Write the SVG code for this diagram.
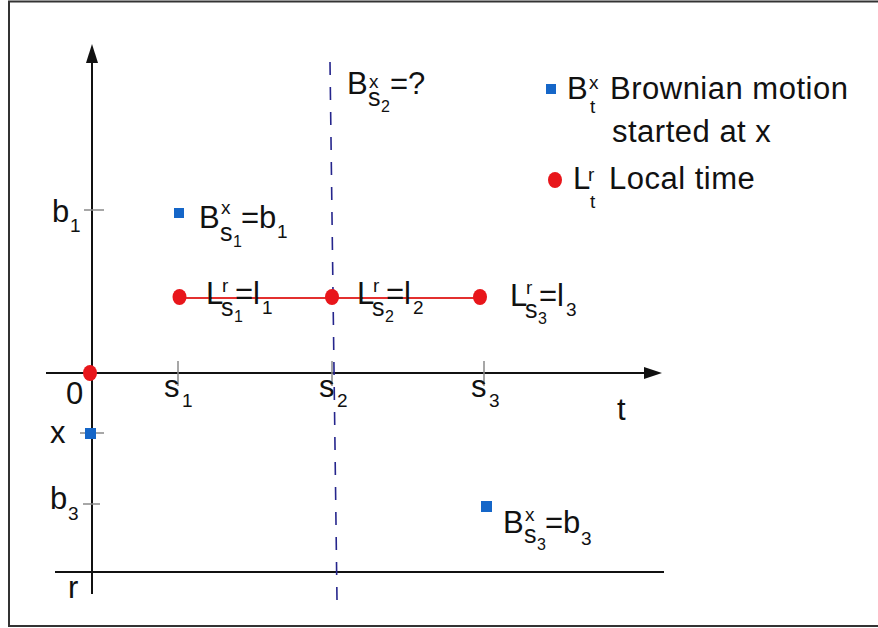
<svg xmlns="http://www.w3.org/2000/svg" width="878" height="628" viewBox="0 0 878 628">
<style>
text{font-family:"Liberation Sans",Arial,sans-serif;fill:#111}
.m{font-size:31px}
.s{font-size:19px}
.ss{font-size:25px}
.t{font-size:16px}
.ax{stroke:#111;stroke-width:2;fill:none}
.tick{stroke:#8a8a8a;stroke-width:1.5}
.dot{fill:#e8161b}
.sq{fill:#1566c8}
</style>
<rect width="878" height="628" fill="#fff"/>
<path d="M878 1.5H9V626H878" fill="none" stroke="#333" stroke-width="2"/>
<g id="connectors">
<path class="ax" d="M92 594V60"/>
<polygon points="92,44 86,63 98,63" fill="#111"/>
<path class="ax" d="M46 373H646"/>
<polygon points="662,373 644,367 644,379" fill="#111"/>
<path class="ax" d="M55 572H664" stroke-width="1.8"/>
<g class="tick">
<path d="M178 361V386M332 361V386M484 361V386M84 210H104M80 433H104M83 504H100"/>
</g>
<path d="M179.5 298H480" stroke="#e3302f" stroke-width="1.8"/>
<path d="M330 62L337 600" stroke="#25258c" stroke-width="1.6" stroke-dasharray="13 12"/>
</g>
<g id="origin"><ellipse class="dot" cx="90" cy="373" rx="7" ry="8"/><text class="m" x="66" y="404">0</text></g>
<g id="tick-labels">
<text class="m" x="164" y="397">s</text><text class="s" x="182" y="407">1</text>
<text class="m" x="319" y="397">s</text><text class="s" x="337" y="407">2</text>
<text class="m" x="471" y="397">s</text><text class="s" x="489" y="407">3</text>
<text class="m" x="617" y="420">t</text>
<text class="m" x="52" y="222">b</text><text class="s" x="70" y="232">1</text>
<text class="m" x="50" y="443">x</text>
<text class="m" x="50" y="509">b</text><text class="s" x="68" y="520">3</text>
<text class="m" x="68" y="598">r</text>
</g>
<g id="x-start"><rect class="sq" x="85" y="428" width="11" height="11"/></g>
<g id="B-s1">
<rect class="sq" x="174" y="208" width="10" height="10"/>
<text class="m" x="199" y="228">B</text><text class="s" x="221" y="214">x</text><text class="ss" x="220" y="241">s</text><text class="t" x="233" y="247">1</text>
<text class="m" x="241" y="228">=b</text><text class="s" x="277" y="238">1</text>
</g>
<g id="B-s2">
<text class="m" x="347" y="94">B</text><text class="s" x="369" y="88">x</text><text class="ss" x="368" y="106">s</text><text class="t" x="381" y="112">2</text>
<text class="m" x="390" y="94">=?</text>
</g>
<g id="B-s3">
<rect class="sq" x="481" y="501" width="11" height="11"/>
<text class="m" x="503" y="533">B</text><text class="s" x="525" y="521">x</text><text class="ss" x="524" y="543">s</text><text class="t" x="537" y="550">3</text>
<text class="m" x="545" y="533">=b</text><text class="s" x="581" y="545">3</text>
</g>
<g id="L-s1">
<ellipse class="dot" cx="179.5" cy="297" rx="7" ry="8"/>
<text class="m" x="206" y="304">L</text><text class="s" x="222" y="292">r</text><text class="ss" x="221" y="316">s</text><text class="t" x="234" y="322">1</text>
<text class="m" x="235" y="304">=l</text><text class="s" x="262" y="314">1</text>
</g>
<g id="L-s2">
<ellipse class="dot" cx="332" cy="297" rx="7" ry="8"/>
<text class="m" x="357" y="304">L</text><text class="s" x="373" y="292">r</text><text class="ss" x="372" y="316">s</text><text class="t" x="385" y="322">2</text>
<text class="m" x="386" y="304">=l</text><text class="s" x="413" y="314">2</text>
</g>
<g id="L-s3">
<ellipse class="dot" cx="480" cy="297" rx="7" ry="8"/>
<text class="m" x="510" y="306">L</text><text class="s" x="526" y="294">r</text><text class="ss" x="525" y="318">s</text><text class="t" x="538" y="324">3</text>
<text class="m" x="539" y="306">=l</text><text class="s" x="566" y="316">3</text>
</g>
<g id="legend-B">
<rect class="sq" x="546" y="84" width="10" height="10"/>
<text class="m" x="567" y="99">B</text><text class="s" x="589" y="89">x</text><text class="s" x="590" y="113">t</text>
<text class="m" x="610" y="99" letter-spacing="0.5">Brownian motion</text>
<text class="m" x="612" y="142" letter-spacing="0.5">started at x</text>
</g>
<g id="legend-L">
<ellipse class="dot" cx="555" cy="180" rx="7" ry="8"/>
<text class="m" x="573" y="189">L</text><text class="s" x="588" y="181">r</text><text class="s" x="590" y="208">t</text>
<text class="m" x="609" y="189" letter-spacing="0.5">Local time</text>
</g>
</svg>
